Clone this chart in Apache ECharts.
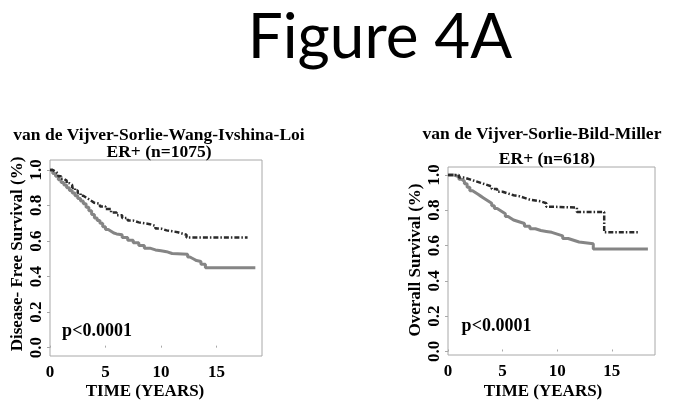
<!DOCTYPE html>
<html>
<head>
<meta charset="utf-8">
<script src="https://cdn.jsdelivr.net/npm/echarts@6/dist/echarts.min.js"></script>
<style>html,body{margin:0;padding:0;background:#fff}#c{width:674px;height:410px}</style>
</head>
<body>
<div id="c"></div>
<script>
// ---- Data ----
var yTicks = [0, 0.2, 0.4, 0.6, 0.8, 1.0];
var xTicks = [0, 5, 10, 15];

// Left panel: Disease-Free Survival, ER+ (n=1075)
var leftSolidT = [0, 0.25, 0.5, 0.75, 1.0, 1.25, 1.5, 1.75, 2.0, 2.25, 2.5, 2.75, 3.0, 3.25, 3.5, 3.75, 4.0, 4.25, 4.5, 4.75, 5.0, 5.25, 5.5, 5.75, 6.0, 6.5, 7.0, 7.5, 8.0, 8.5, 9.0, 9.5, 10.0, 10.5, 11.0, 12.4, 12.6, 12.9, 13.2, 13.6, 14.0, 18.5];
var leftSolidS = [1.0, 0.98, 0.965, 0.945, 0.93, 0.915, 0.90, 0.885, 0.87, 0.855, 0.84, 0.825, 0.81, 0.79, 0.77, 0.75, 0.73, 0.715, 0.70, 0.68, 0.665, 0.655, 0.645, 0.64, 0.635, 0.62, 0.605, 0.59, 0.575, 0.56, 0.55, 0.545, 0.54, 0.53, 0.525, 0.51, 0.50, 0.49, 0.485, 0.47, 0.45, 0.45];
var leftDashT = [0, 0.25, 0.5, 0.75, 1.0, 1.25, 1.5, 1.75, 2.0, 2.25, 2.5, 2.75, 3.0, 3.25, 3.5, 3.75, 4.0, 4.5, 5.0, 5.5, 6.0, 6.5, 7.0, 7.5, 8.0, 8.5, 9.0, 9.5, 10.0, 10.5, 11.0, 11.5, 12.0, 12.3, 17.8];
var leftDashS = [1.0, 0.99, 0.98, 0.965, 0.95, 0.94, 0.925, 0.915, 0.90, 0.885, 0.87, 0.855, 0.845, 0.835, 0.825, 0.815, 0.81, 0.795, 0.78, 0.76, 0.745, 0.73, 0.715, 0.705, 0.70, 0.695, 0.685, 0.67, 0.66, 0.655, 0.65, 0.64, 0.635, 0.62, 0.62];

// Right panel: Overall Survival, ER+ (n=618)
var rightSolidT = [0, 0.5, 1.0, 1.25, 1.5, 1.75, 2.0, 2.25, 2.5, 2.75, 3.0, 3.25, 3.5, 3.75, 4.0, 4.25, 4.5, 4.75, 5.0, 5.25, 5.5, 5.75, 6.0, 6.5, 7.0, 7.5, 8.0, 8.5, 9.0, 9.5, 10.0, 10.5, 11.0, 11.5, 12.0, 13.3, 18.3];
var rightSolidS = [1.0, 0.99, 0.975, 0.965, 0.95, 0.93, 0.91, 0.90, 0.89, 0.88, 0.87, 0.86, 0.85, 0.84, 0.825, 0.81, 0.80, 0.79, 0.78, 0.765, 0.755, 0.745, 0.735, 0.725, 0.71, 0.695, 0.685, 0.68, 0.675, 0.665, 0.655, 0.64, 0.63, 0.62, 0.61, 0.58, 0.58];
var rightDashT = [0, 1.0, 1.5, 2.0, 2.5, 3.0, 3.5, 4.0, 4.5, 5.0, 5.5, 6.0, 6.5, 7.0, 7.5, 8.0, 8.5, 9.0, 9.5, 11.8, 14.3, 17.4];
var rightDashS = [1.0, 0.985, 0.975, 0.965, 0.955, 0.945, 0.935, 0.92, 0.905, 0.895, 0.885, 0.88, 0.87, 0.86, 0.855, 0.85, 0.84, 0.82, 0.815, 0.79, 0.675, 0.675];

var texts = {
  fig: 'Figure 4A',
  lt1: 'van de Vijver-Sorlie-Wang-Ivshina-Loi', lt2: 'ER+ (n=1075)',
  rt1: 'van de Vijver-Sorlie-Bild-Miller', rt2: 'ER+ (n=618)',
  ly: 'Disease- Free Survival (%)', ry: 'Overall Survival (%)',
  x: 'TIME (YEARS)', p: 'p<0.0001'
};

function pairs(t, s) { return t.map(function (v, i) { return [v, s[i]]; }); }

var serif = '"Liberation Serif", "DejaVu Serif", serif';
var boxColor = '#a8a8a8';

function xAxisDef(gi, max) {
  return {
    type: 'value', gridIndex: gi, min: 0, max: max,
    axisLine: { show: false }, splitLine: { show: false },
    axisTick: { show: true, inside: true, length: 2, customValues: xTicks, lineStyle: { color: boxColor } },
    axisLabel: { customValues: xTicks, margin: 8, color: '#000', fontFamily: serif, fontWeight: 'bold', fontSize: 17 }
  };
}
function yAxisDef(gi, min, max) {
  return {
    type: 'value', gridIndex: gi, min: min, max: max,
    axisLine: { show: false }, splitLine: { show: false },
    axisTick: { show: true, length: 3, customValues: yTicks, lineStyle: { color: boxColor } },
    axisLabel: { customValues: yTicks, rotate: 90, margin: 5, color: '#000', fontFamily: serif, fontWeight: 'bold', fontSize: 17,
      formatter: function (v) { return v.toFixed(1); } }
  };
}
function txt(x, y, s, size, extra) {
  var o = { type: 'text', x: x, y: y, style: { text: s, fill: '#000', font: 'bold ' + size + 'px ' + serif, textAlign: 'center', textVerticalAlign: 'middle' } };
  if (extra) for (var k in extra) o[k] = extra[k];
  return o;
}

var solidStyle = { color: '#858585', width: 3 };
var dashStyle = { color: '#2a2a2a', width: 2.5, type: [5, 2, 1.5, 2] };

var chart = echarts.init(document.getElementById('c'), null, { renderer: 'canvas' });
chart.setOption({
  backgroundColor: '#fff',
  animation: false,
  grid: [
    { left: 50, top: 160, width: 212, height: 196, show: true, borderColor: boxColor, borderWidth: 1, backgroundColor: 'transparent' },
    { left: 448, top: 167, width: 207, height: 188, show: true, borderColor: boxColor, borderWidth: 1, backgroundColor: 'transparent' }
  ],
  xAxis: [xAxisDef(0, 19.1), xAxisDef(1, 18.95)],
  yAxis: [yAxisDef(0, -0.047, 1.056), yAxisDef(1, -0.02, 1.045)],
  series: [
    { type: 'line', xAxisIndex: 0, yAxisIndex: 0, step: 'end', showSymbol: false, data: pairs(leftSolidT, leftSolidS), lineStyle: solidStyle },
    { type: 'line', xAxisIndex: 0, yAxisIndex: 0, step: 'end', showSymbol: false, data: pairs(leftDashT, leftDashS), lineStyle: dashStyle },
    { type: 'line', xAxisIndex: 1, yAxisIndex: 1, step: 'end', showSymbol: false, data: pairs(rightSolidT, rightSolidS), lineStyle: solidStyle },
    { type: 'line', xAxisIndex: 1, yAxisIndex: 1, step: 'end', showSymbol: false, data: pairs(rightDashT, rightDashS), lineStyle: dashStyle }
  ],
  graphic: [
    { type: 'text', x: 380, y: 38, style: { text: texts.fig, fill: '#000', font: '62px Lato, "Open Sans", sans-serif', textAlign: 'center', textVerticalAlign: 'middle' } },
    txt(159, 135, texts.lt1, 17.5),
    txt(159, 152, texts.lt2, 17.5),
    txt(542, 134.5, texts.rt1, 17.5),
    txt(547, 159, texts.rt2, 17.5),
    txt(17.5, 254, texts.ly, 17, { rotation: Math.PI / 2 }),
    txt(415.5, 260, texts.ry, 17, { rotation: Math.PI / 2 }),
    txt(145, 392, texts.x, 17),
    txt(543, 392, texts.x, 17),
    txt(97, 331.5, texts.p, 18),
    txt(496.5, 326, texts.p, 18)
  ]
});
</script>
</body>
</html>
